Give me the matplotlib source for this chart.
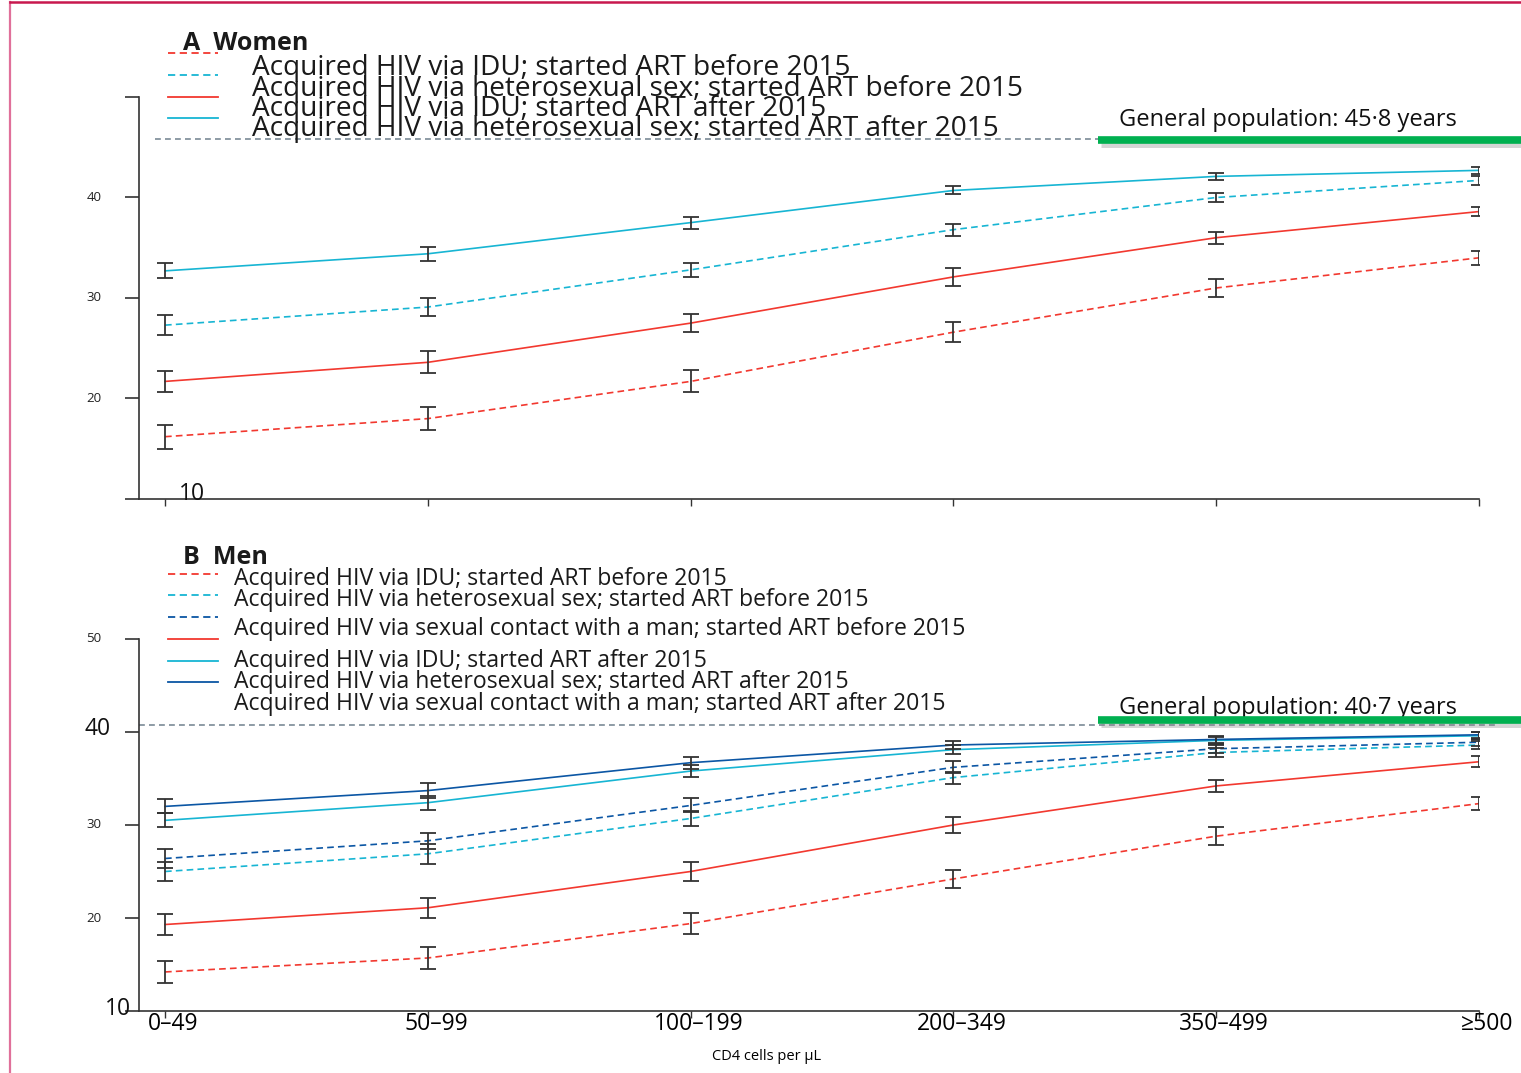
import matplotlib
matplotlib.use("Agg")
import matplotlib.pyplot as plt
from matplotlib.lines import Line2D
from matplotlib.transforms import ScaledTranslation, blended_transform_factory

plt.rcParams['font.family'] = ['Open Sans', 'DejaVu Sans']

categories = ["0\u201349", "50\u201399", "100\u2013199", "200\u2013349", "350\u2013499", "\u2265500"]

# women, years of life expectancy at age 20 with 95% CI half widths
w_idu_before = [16.2, 18.0, 21.7, 26.6, 31.0, 34.0]
w_idu_before_err = [1.2, 1.15, 1.1, 1.0, 0.9, 0.7]
w_het_before = [27.3, 29.1, 32.8, 36.8, 40.0, 41.7]
w_het_before_err = [1.0, 0.9, 0.7, 0.6, 0.45, 0.45]
w_idu_after = [21.7, 23.6, 27.5, 32.1, 36.0, 38.6]
w_idu_after_err = [1.05, 1.1, 0.9, 0.9, 0.6, 0.45]
w_het_after = [32.7, 34.4, 37.5, 40.7, 42.1, 42.7]
w_het_after_err = [0.75, 0.7, 0.6, 0.4, 0.33, 0.35]

# men
m_idu_before = [14.2, 15.7, 19.4, 24.2, 28.8, 32.3]
m_idu_before_err = [1.2, 1.2, 1.1, 1.0, 1.0, 0.7]
m_het_before = [25.0, 26.9, 30.7, 35.1, 37.8, 38.6]
m_het_before_err = [1.0, 1.1, 0.85, 0.65, 0.5, 0.45]
m_msm_before = [26.4, 28.3, 32.1, 36.2, 38.2, 38.9]
m_msm_before_err = [1.0, 0.85, 0.75, 0.65, 0.45, 0.4]
m_idu_after = [19.3, 21.1, 25.0, 30.0, 34.2, 36.8]
m_idu_after_err = [1.15, 1.1, 1.0, 0.9, 0.65, 0.6]
m_het_after = [30.5, 32.4, 35.8, 38.1, 39.1, 39.6]
m_het_after_err = [0.75, 0.75, 0.65, 0.45, 0.4, 0.35]
m_msm_after = [32.0, 33.7, 36.7, 38.6, 39.2, 39.7]
m_msm_after_err = [0.75, 0.85, 0.65, 0.45, 0.4, 0.35]

gen_pop_women = 45.8
gen_pop_men = 40.7

women_labels = ["Acquired HIV via IDU; started ART before 2015",
                "Acquired HIV via heterosexual sex; started ART before 2015",
                "Acquired HIV via IDU; started ART after 2015",
                "Acquired HIV via heterosexual sex; started ART after 2015"]
men_labels = ["Acquired HIV via IDU; started ART before 2015",
              "Acquired HIV via heterosexual sex; started ART before 2015",
              "Acquired HIV via sexual contact with a man; started ART before 2015",
              "Acquired HIV via IDU; started ART after 2015",
              "Acquired HIV via heterosexual sex; started ART after 2015",
              "Acquired HIV via sexual contact with a man; started ART after 2015"]

RED = "#F2382F"
CYAN = "#17B5D3"
DBLUE = "#0B56A4"
GREY = "#7A8A96"
AXC = "#333333"
DASH = (0, (4, 2.5))

W, H = 1521, 1073
fig = plt.figure(figsize=(W / 100, H / 100), dpi=100)


def fx(x):
    return x / W


def fy(y):
    return 1 - y / H


ax1 = fig.add_axes([fx(139), fy(499), (1479 - 139) / W, (499 - 97) / H])
ax2 = fig.add_axes([fx(139), fy(1011), (1479 - 139) / W, (1011 - 639) / H])

x = list(range(len(categories)))

women = [(w_idu_before, w_idu_before_err, RED, DASH),
         (w_het_before, w_het_before_err, CYAN, DASH),
         (w_idu_after, w_idu_after_err, RED, '-'),
         (w_het_after, w_het_after_err, CYAN, '-')]
men = [(m_idu_before, m_idu_before_err, RED, DASH),
       (m_het_before, m_het_before_err, CYAN, DASH),
       (m_msm_before, m_msm_before_err, DBLUE, DASH),
       (m_idu_after, m_idu_after_err, RED, '-'),
       (m_het_after, m_het_after_err, CYAN, '-'),
       (m_msm_after, m_msm_after_err, DBLUE, '-')]

for ax, series in [(ax1, women), (ax2, men)]:
    for vals, err, col, ls in series:
        ax.plot(x, vals, color=col, linestyle=ls, lw=1.2, zorder=3)
        ax.errorbar(x, vals, yerr=err, fmt='none', ecolor=AXC, elinewidth=1.3,
                    capsize=6, capthick=1.3, zorder=4)
    ax.set_xlim(-0.099, 5)
    ax.set_ylim(10, 50)
    ax.set_xticks(x)
    ax.set_yticks([10, 20, 30, 40, 50])
    ax.set_yticklabels([])
    for s in ['top', 'right']:
        ax.spines[s].set_visible(False)
    for s in ['left', 'bottom']:
        ax.spines[s].set_color(AXC)
        ax.spines[s].set_linewidth(1.2)
    ax.tick_params(axis='y', length=10, width=1.2, color=AXC)
    ax.tick_params(axis='x', length=5, width=1.0, color=AXC)

ax1.set_xticklabels([])
ax2.set_xticklabels(categories, fontsize=16.5)
ax2.tick_params(axis='x', pad=-4)
for lab in ax2.get_xticklabels():
    lab.set_transform(lab.get_transform() + ScaledTranslation(8 / 100, 0, fig.dpi_scale_trans))
ax2.set_xlabel("CD4 cells per \u00b5L", fontsize=10.5)
ax2.xaxis.set_label_coords((767 - 139) / 1340, -0.102)

# y tick labels, mixed sizes as in the original
yt1 = blended_transform_factory(ax1.transAxes, ax1.transData)
for v in [20, 30, 40]:
    ax1.text(-0.028, v, str(v), transform=yt1, ha='right', va='center', fontsize=9.5, color='#222222')
ax1.text(0.03, 9.95, "10", transform=yt1, ha='left', va='baseline', fontsize=16.5, color='#111111')

yt2 = blended_transform_factory(ax2.transAxes, ax2.transData)
for v in [20, 30, 50]:
    ax2.text(-0.028, v, str(v), transform=yt2, ha='right', va='center', fontsize=9.5, color='#222222')
ax2.text(-0.021, 40.3, "40", transform=yt2, ha='right', va='center', fontsize=16.5, color='#111111')
ax2.text(-0.006, 10.2, "10", transform=yt2, ha='right', va='center', fontsize=16.5, color='#111111')

# general population reference lines
ax1.plot([-0.04, 3.55], [gen_pop_women, gen_pop_women], color=GREY, lw=1.2,
         linestyle=(0, (3.5, 2.5)), clip_on=False, zorder=2)
ax2.plot([-0.099, 5.07], [gen_pop_men, gen_pop_men], color=GREY, lw=1.2,
         linestyle=(0, (3.5, 2.5)), clip_on=False, zorder=2)

for ty, by, val in [(120, 140, gen_pop_women), (708, 719.5, gen_pop_men)]:
    fig.text(fx(1119), fy(ty), "General population: %s years" % str(val).replace('.', '\u00b7'),
             fontsize=17, ha='left', va='center', color='#111111', zorder=1)
    fig.add_artist(Line2D([fx(1101), fx(1521)], [fy(by + 4), fy(by + 4)], color='#888888',
                          lw=5, alpha=0.35, solid_capstyle='butt', zorder=4))
    fig.add_artist(Line2D([fx(1098), fx(1521)], [fy(by), fy(by)], color='#00B050',
                          lw=5.5, solid_capstyle='butt', zorder=5))

# hand placed legends (rows overlap in the original too)
fig.text(fx(183), fy(44), "A  Women", fontsize=18, fontweight='bold', ha='left', va='center', color='#1a1a1a')
for (vals, err, col, ls), hy in zip(women, [53, 75, 97, 118]):
    fig.add_artist(Line2D([fx(168), fx(218)], [fy(hy), fy(hy)], color=col, linestyle=ls, lw=1.3))
for lab, ty in zip(women_labels, [68, 89, 109, 129]):
    fig.text(fx(252), fy(ty), lab, fontsize=20.2, ha='left', va='center', color='#1a1a1a')

fig.text(fx(183), fy(558), "B  Men", fontsize=18, fontweight='bold', ha='left', va='center', color='#1a1a1a')
for (vals, err, col, ls), hy in zip(men, [574, 595, 617, 639, 661, 682]):
    fig.add_artist(Line2D([fx(168), fx(218)], [fy(hy), fy(hy)], color=col, linestyle=ls, lw=1.3))
for lab, ty in zip(men_labels, [579, 600, 629, 661, 682, 704]):
    fig.text(fx(234), fy(ty), lab, fontsize=16.6, ha='left', va='center', color='#1a1a1a')

# pink page frame
fig.add_artist(Line2D([fx(10), fx(10)], [fy(2), fy(1073)], color='#E0709A', lw=1.6))
fig.add_artist(Line2D([fx(10), fx(1521)], [fy(2), fy(2)], color='#C8184E', lw=1.8))

fig.savefig("out.png", dpi=100)
